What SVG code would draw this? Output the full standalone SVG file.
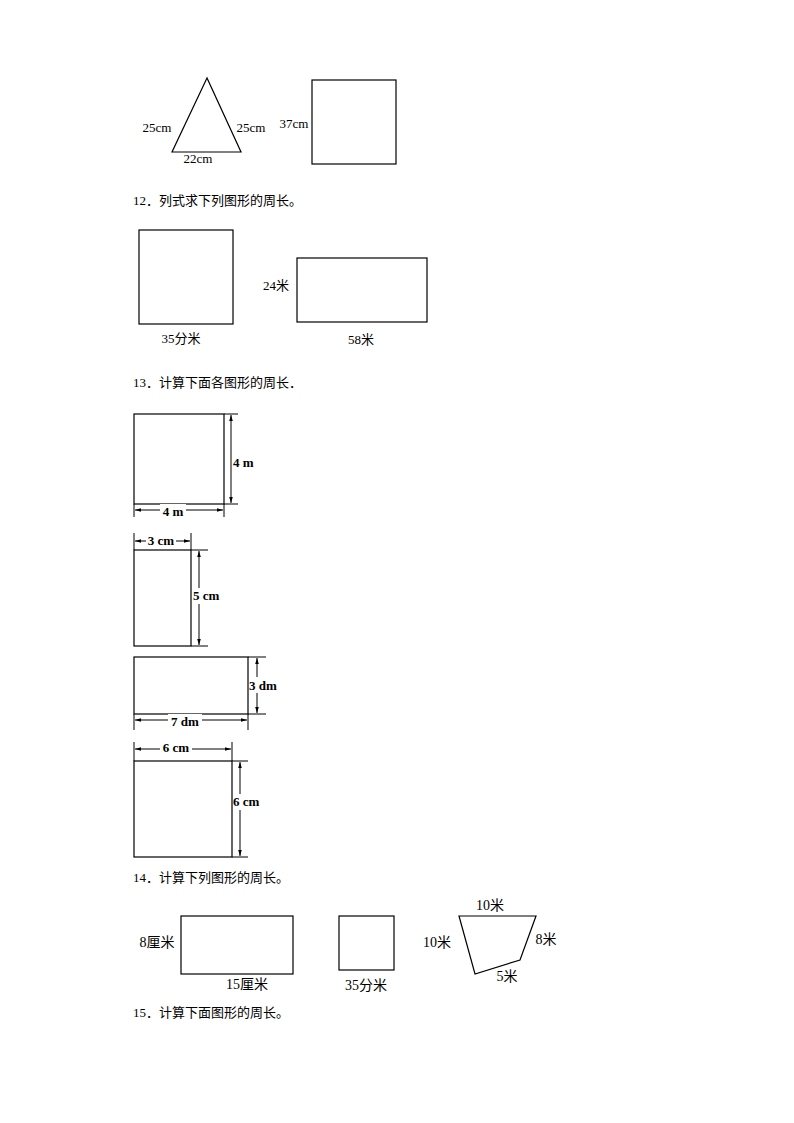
<svg xmlns="http://www.w3.org/2000/svg" width="794" height="1123" viewBox="0 0 794 1123">
<defs>
<marker id="a" viewBox="0 0 10 10" refX="10" refY="5" markerWidth="6" markerHeight="6" orient="auto-start-reverse"><path d="M0,2 L10,5 L0,8 z" fill="#000"/></marker>
</defs>
<style>
.s{fill:none;stroke:#000;stroke-width:1.2}
.d{stroke:#000;stroke-width:1;marker-start:url(#a);marker-end:url(#a)}
.e{stroke:#000;stroke-width:1}
text{font-family:"Liberation Serif","Noto Sans CJK SC",serif;font-size:13px;fill:#000}
.b{font-weight:bold}
.m{text-anchor:middle}
</style>
<rect width="794" height="1123" fill="#fff"/>
<g id="tri"><polygon class="s" points="207,78 172,152 241,152"/>
<text x="157" y="132" class="m">25cm</text><text x="251" y="132" class="m">25cm</text><text x="198" y="163" class="m">22cm</text></g>
<g id="sq0"><rect class="s" x="312" y="80" width="84" height="84"/><text x="294" y="128" class="m">37cm</text></g>
<text x="133" y="205">12．列式求下列图形的周长。</text>
<g id="sq1"><rect class="s" x="139" y="230" width="94" height="94"/><text x="181" y="343" class="m">35分米</text></g>
<g id="rect1"><rect class="s" x="297" y="258" width="130" height="64"/><text x="276" y="290" class="m">24米</text><text x="361" y="344" class="m">58米</text></g>
<text x="133" y="387">13．计算下面各图形的周长．</text>
<g id="f1"><rect class="s" x="134" y="414" width="90" height="90"/>
<line class="e" x1="224" y1="414" x2="238" y2="414"/><line class="e" x1="224" y1="504" x2="238" y2="504"/>
<line class="d" x1="231" y1="415" x2="231" y2="503"/>
<line class="e" x1="134" y1="504" x2="134" y2="517"/><line class="e" x1="224" y1="504" x2="224" y2="517"/>
<line class="d" x1="135" y1="510" x2="223" y2="510"/>
<rect x="160" y="504" width="26" height="12" fill="#fff"/><rect x="232" y="452" width="24" height="20" fill="#fff"/>
<text x="233" y="467" class="b">4 m</text><text x="173" y="516" class="m b">4 m</text></g>
<g id="f2"><rect class="s" x="134" y="550" width="57" height="96"/>
<line class="e" x1="134" y1="533" x2="134" y2="550"/><line class="e" x1="191" y1="533" x2="191" y2="550"/>
<line class="d" x1="135" y1="541" x2="190" y2="541"/>
<line class="e" x1="191" y1="550" x2="208" y2="550"/><line class="e" x1="191" y1="646" x2="208" y2="646"/>
<line class="d" x1="199" y1="551" x2="199" y2="645"/>
<rect x="146" y="535" width="30" height="12" fill="#fff"/><rect x="192" y="588" width="32" height="16" fill="#fff"/>
<text x="161" y="545" class="m b">3 cm</text><text x="193" y="600" class="b">5 cm</text></g>
<g id="f3"><rect class="s" x="134" y="657" width="114" height="57"/>
<line class="e" x1="248" y1="657" x2="266" y2="657"/><line class="e" x1="248" y1="714" x2="266" y2="714"/>
<line class="d" x1="257" y1="658" x2="257" y2="713"/>
<line class="e" x1="134" y1="714" x2="134" y2="730"/><line class="e" x1="248" y1="714" x2="248" y2="730"/>
<line class="d" x1="135" y1="720" x2="247" y2="720"/>
<rect x="168" y="714" width="34" height="12" fill="#fff"/><rect x="249" y="677" width="34" height="16" fill="#fff"/>
<text x="185" y="726" class="m b">7 dm</text><text x="249" y="690" class="b">3 dm</text></g>
<g id="f4"><rect class="s" x="134" y="761" width="98" height="96"/>
<line class="e" x1="134" y1="742" x2="134" y2="761"/><line class="e" x1="232" y1="742" x2="232" y2="761"/>
<line class="d" x1="135" y1="749" x2="231" y2="749"/>
<line class="e" x1="232" y1="761" x2="248" y2="761"/><line class="e" x1="232" y1="857" x2="248" y2="857"/>
<line class="d" x1="240" y1="762" x2="240" y2="856"/>
<rect x="160" y="742" width="32" height="12" fill="#fff"/><rect x="233" y="794" width="32" height="16" fill="#fff"/>
<text x="176" y="752" class="m b">6 cm</text><text x="233" y="806" class="b">6 cm</text></g>
<text x="133" y="882">14．计算下列图形的周长。</text>
<g id="r14" font-size="14"><rect class="s" x="181" y="916" width="112" height="58"/>
<text x="157" y="947" class="m" style="font-size:14px">8厘米</text><text x="247" y="989" class="m" style="font-size:14px">15厘米</text></g>
<g id="s14"><rect class="s" x="339" y="916" width="55" height="54"/><text x="366" y="990" class="m" style="font-size:14px">35分米</text></g>
<g id="q14"><polygon class="s" points="459,916 536,916 520,960 475,974"/>
<text x="490" y="910" class="m" style="font-size:14px">10米</text><text x="437" y="947" class="m" style="font-size:14px">10米</text>
<text x="546" y="944" class="m" style="font-size:14px">8米</text><text x="507" y="981" class="m" style="font-size:14px">5米</text></g>
<text x="133" y="1017">15．计算下面图形的周长。</text>
<g id="connectors"/>
</svg>
